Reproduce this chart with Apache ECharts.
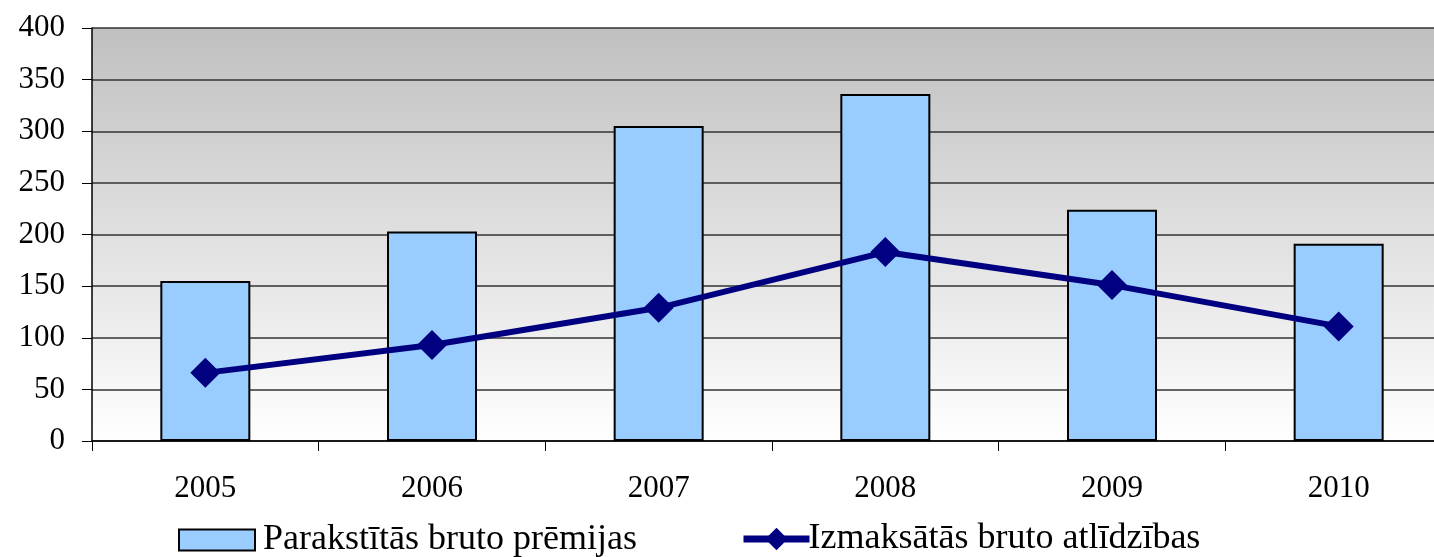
<!DOCTYPE html>
<html>
<head>
<meta charset="utf-8">
<script src="https://cdn.jsdelivr.net/npm/echarts@6/dist/echarts.min.js"></script>
<style>
  html, body { margin: 0; padding: 0; background: #fff; }
  #chart { width: 1434px; height: 557px; }
</style>
</head>
<body>
<div id="chart"></div>
<script>
// data
const years = ['2005', '2006', '2007', '2008', '2009', '2010'];
const premiums = [155, 203, 305, 336, 224, 191];
const claims = [66, 93, 129, 183, 151, 111];
const yTicks = [0, 400, 50];

const font = '"Liberation Serif", "Times New Roman", serif';
const chart = echarts.init(document.getElementById('chart'));

chart.setOption({
    animation: false,
    grid: {
        left: 92, top: 28, width: 1360, height: 413,
        outerBoundsMode: 'none',
        containLabel: false,
        show: true,
        borderWidth: 0,
        backgroundColor: new echarts.graphic.LinearGradient(0, 0, 0, 1, [
            { offset: 0, color: '#c0c0c0' },
            { offset: 1, color: '#ffffff' }
        ])
    },
    legend: [
        {
            data: [{ name: 'Parakstītās bruto prēmijas', icon: 'rect' }],
            left: 173, top: 517,
            itemWidth: 76, itemHeight: 21,
            textStyle: { fontFamily: font, fontSize: 36, color: '#000', padding: [0, 0, 0, 3] }
        },
        {
            data: ['Izmaksātās bruto atlīdzības'],
            left: 735, top: 516,
            itemWidth: 66, itemHeight: 28,
            itemGap: 0,
            lineStyle: { width: 7, color: '#000080' },
            textStyle: { fontFamily: font, fontSize: 36, color: '#000', padding: [0, 0, 0, -6] }
        }
    ],
    xAxis: {
        type: 'category',
        data: years,
        boundaryGap: true,
        axisLine: { lineStyle: { color: '#000', width: 1.5 } },
        axisTick: { show: true, length: 10, lineStyle: { color: '#000' } },
        axisLabel: { fontFamily: font, fontSize: 31, color: '#000', margin: 32 }
    },
    yAxis: {
        type: 'value',
        min: yTicks[0], max: yTicks[1], interval: yTicks[2],
        axisLine: { show: true, lineStyle: { color: '#000', width: 1.5 } },
        axisTick: { show: true, length: 10, lineStyle: { color: '#000' } },
        splitLine: { lineStyle: { color: '#333', width: 1.5 } },
        axisLabel: { fontFamily: font, fontSize: 31, color: '#000', margin: 27 }
    },
    series: [
        {
            name: 'Parakstītās bruto prēmijas',
            type: 'bar',
            data: premiums,
            barWidth: 90,
            itemStyle: { color: '#99ccff', borderColor: '#000', borderWidth: 2 }
        },
        {
            name: 'Izmaksātās bruto atlīdzības',
            type: 'line',
            data: claims,
            symbol: 'diamond',
            symbolSize: 30,
            lineStyle: { color: '#000080', width: 6 },
            itemStyle: { color: '#000080' }
        }
    ]
});
</script>
</body>
</html>
